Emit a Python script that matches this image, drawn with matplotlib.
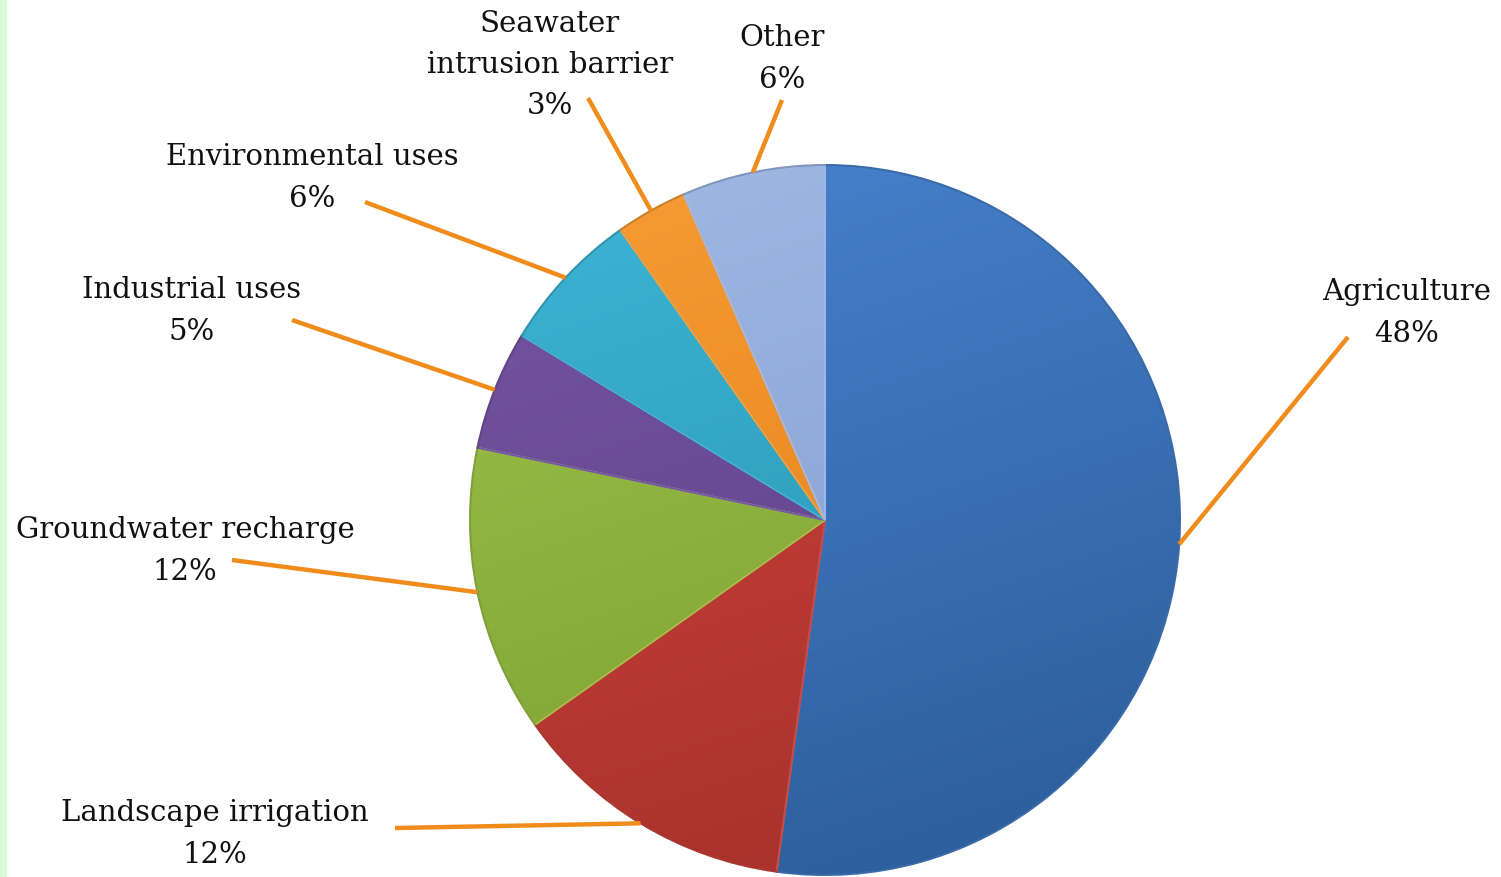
import numpy as np
import matplotlib
matplotlib.use("Agg")
import matplotlib.pyplot as plt
from matplotlib.colors import to_rgb
from matplotlib.patches import PathPatch

# Water use shares (percent) and labels, clockwise from 12 o'clock
categories = ["Agriculture", "Landscape irrigation", "Groundwater recharge",
              "Industrial uses", "Environmental uses",
              "Seawater\nintrusion barrier", "Other"]
shares = [48, 12, 12, 5, 6, 3, 6]

base_colors = ["#3a70b8", "#bd3a31", "#8cb23c", "#694995",
               "#2ea4c4", "#f28a1f", "#8fa9dc"]
light_colors = ["#4884d0", "#d2463c", "#9fc44c", "#7756a5",
                "#3db6d6", "#f99d35", "#a0b9e6"]
dark_colors = ["#2b5b98", "#a32f29", "#769a2e", "#583c80",
               "#248fab", "#de7913", "#7d97cb"]

W, H = 1501, 877
CX, CY, R = 825, H - 520, 355
LEADER = "#ef8c1c"

# label block centres and leader-line ends, in pixels from top-left
label_pos = [(1407, 313), (215, 834), (185, 551), (192, 311),
             (312, 178), (550, 65), (782, 59)]
leader_end = [(1348, 337), (395, 828), (232, 560), (292, 320),
              (365, 202), (588, 98), (782, 100)]

fig = plt.figure(figsize=(W / 100, H / 100), dpi=100)
fig.patch.set_facecolor("white")
ax = fig.add_axes([0, 0, 1, 1])

wedges, _ = ax.pie(shares, colors=base_colors, startangle=90,
                   counterclock=False, center=(CX, CY), radius=R,
                   wedgeprops=dict(linewidth=0))

# shaded fill for each slice, lighter on top, darker underneath
ny, nx = 200, 200
yy, xx = np.mgrid[0:ny, 0:nx]
t = (0.75 * yy / (ny - 1) + 0.25 * xx / (nx - 1))[..., None]
for w, lc, dc in zip(wedges, light_colors, dark_colors):
    img = np.array(to_rgb(lc)) * (1 - t) + np.array(to_rgb(dc)) * t
    im = ax.imshow(img, extent=(CX - R, CX + R, CY - R, CY + R),
                   origin="upper", zorder=1.5, interpolation="bilinear")
    im.set_clip_path(w)
    w.set_zorder(1)
    # thin bevel-like outline
    ax.add_patch(PathPatch(w.get_path(), transform=w.get_transform(),
                           fill=False, edgecolor=lc, linewidth=1.4,
                           zorder=1.6))

# rim shadow
ax.add_patch(plt.Circle((CX, CY), R, fill=False, edgecolor="#00000030",
                        linewidth=1.5, zorder=1.7))

for w, name, pct, (lx, ly), (ex, ey) in zip(wedges, categories, shares,
                                            label_pos, leader_end):
    mid = np.deg2rad((w.theta1 + w.theta2) / 2)
    sx, sy = CX + R * np.cos(mid), CY + R * np.sin(mid)
    ax.plot([sx, ex], [sy, H - ey], color=LEADER, linewidth=3.2,
            solid_capstyle="butt", zorder=2)
    ax.text(lx, H - ly, "%s\n%d%%" % (name, pct), ha="center", va="center",
            multialignment="center", fontsize=21, family="DejaVu Serif",
            color="#111111", linespacing=1.6, zorder=3)

# pale green strip along the left edge
ax.add_patch(plt.Rectangle((0, 0), 7, H, facecolor="#d9fbd9",
                           edgecolor="none", zorder=0))

ax.set_xlim(0, W)
ax.set_ylim(0, H)
ax.set_aspect("equal")
ax.axis("off")

fig.savefig("out.png", dpi=100, facecolor="white")
